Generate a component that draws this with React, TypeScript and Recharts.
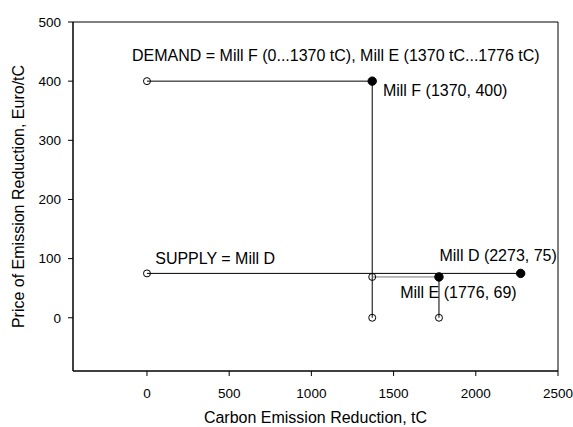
import React from "react";
import {
  ComposedChart,
  Line,
  Scatter,
  XAxis,
  YAxis,
  ReferenceArea,
} from "recharts";

const xTicks = [0, 500, 1000, 1500, 2000, 2500];
const yTicks = [0, 100, 200, 300, 400, 500];

const demandMillF = [
  { x: 0, y: 400 },
  { x: 1370, y: 400 },
];
const demandDropF = [
  { x: 1370, y: 400 },
  { x: 1370, y: 0 },
];
const demandMillE = [
  { x: 1370, y: 69 },
  { x: 1776, y: 69 },
];
const demandDropE = [
  { x: 1776, y: 69 },
  { x: 1776, y: 0 },
];
const supplyMillD = [
  { x: 0, y: 75 },
  { x: 2273, y: 75 },
];

const openPoints = [
  { x: 0, y: 400 },
  { x: 1370, y: 0 },
  { x: 1370, y: 69 },
  { x: 1776, y: 0 },
  { x: 0, y: 75 },
];
const filledPoints = [
  { x: 1370, y: 400 },
  { x: 1776, y: 69 },
  { x: 2273, y: 75 },
];

const annotations = [
  { x: -91, y: 443, text: "DEMAND = Mill F (0...1370 tC), Mill E (1370 tC...1776 tC)" },
  { x: 1435, y: 384, text: "Mill F (1370, 400)" },
  { x: 50, y: 100, text: "SUPPLY = Mill D" },
  { x: 1779, y: 105, text: "Mill D (2273, 75)" },
  { x: 1540, y: 43, text: "Mill E (1776, 69)" },
];

const FONT = "'Liberation Sans', Arial, sans-serif";

const OpenDot = (p: any) => (
  <circle cx={p.cx} cy={p.cy} r={3.5} fill="none" stroke="#000" strokeWidth={1} />
);
const FilledDot = (p: any) => (
  <circle cx={p.cx} cy={p.cy} r={4.2} fill="#000" stroke="#000" strokeWidth={1} />
);
const TextMark = (p: any) => (
  <text
    x={p.cx}
    y={p.cy}
    dominantBaseline="central"
    textAnchor="start"
    fontSize={16}
    fontFamily={FONT}
    fill="#000"
  >
    {p.payload.text}
  </text>
);

export default function App() {
  return (
    <div style={{ position: "absolute", left: 0, top: 0, background: "#fff" }}>
      <ComposedChart
        width={573}
        height={427}
        margin={{ top: 22, right: 15, bottom: 0, left: 0 }}
        style={{ fontFamily: FONT }}
      >
        <XAxis
          dataKey="x"
          type="number"
          domain={[-450, 2500]}
          ticks={xTicks}
          allowDataOverflow
          height={56}
          tickSize={5}
          tickMargin={12}
          stroke="#000"
          tick={{ fill: "#000", fontSize: 13.5, fontFamily: FONT }}
          label={{
            value: "Carbon Emission Reduction, tC",
            position: "insideBottom",
            offset: 4,
            fill: "#000",
            fontSize: 16,
            fontFamily: FONT,
          }}
        />
        <YAxis
          dataKey="y"
          type="number"
          domain={[-90, 500]}
          ticks={yTicks}
          allowDataOverflow
          width={73}
          tickSize={5}
          tickMargin={7}
          stroke="#000"
          tick={{ fill: "#000", fontSize: 13.5, fontFamily: FONT }}
          label={{
            value: "Price of Emission Reduction, Euro/tC",
            angle: -90,
            position: "insideLeft",
            offset: 18,
            style: { textAnchor: "middle" },
            fill: "#000",
            fontSize: 16,
            fontFamily: FONT,
          }}
        />
        <ReferenceArea
          x1={-450}
          x2={2500}
          y1={-90}
          y2={500}
          fill="none"
          stroke="#000"
          strokeWidth={1}
          fillOpacity={0}
          ifOverflow="visible"
        />
        <Line data={supplyMillD} dataKey="y" stroke="#000" strokeWidth={1} dot={false} isAnimationActive={false} />
        <Line data={demandMillF} dataKey="y" stroke="#000" strokeWidth={1} dot={false} isAnimationActive={false} />
        <Line data={demandDropF} dataKey="y" stroke="#000" strokeWidth={1} dot={false} isAnimationActive={false} />
        <Line data={demandMillE} dataKey="y" stroke="#777" strokeWidth={1} dot={false} isAnimationActive={false} />
        <Line data={demandDropE} dataKey="y" stroke="#000" strokeWidth={1} dot={false} isAnimationActive={false} />
        <Scatter data={openPoints} dataKey="y" shape={OpenDot} isAnimationActive={false} />
        <Scatter data={filledPoints} dataKey="y" shape={FilledDot} isAnimationActive={false} />
        <Scatter data={annotations} dataKey="y" shape={TextMark} isAnimationActive={false} />
      </ComposedChart>
    </div>
  );
}
